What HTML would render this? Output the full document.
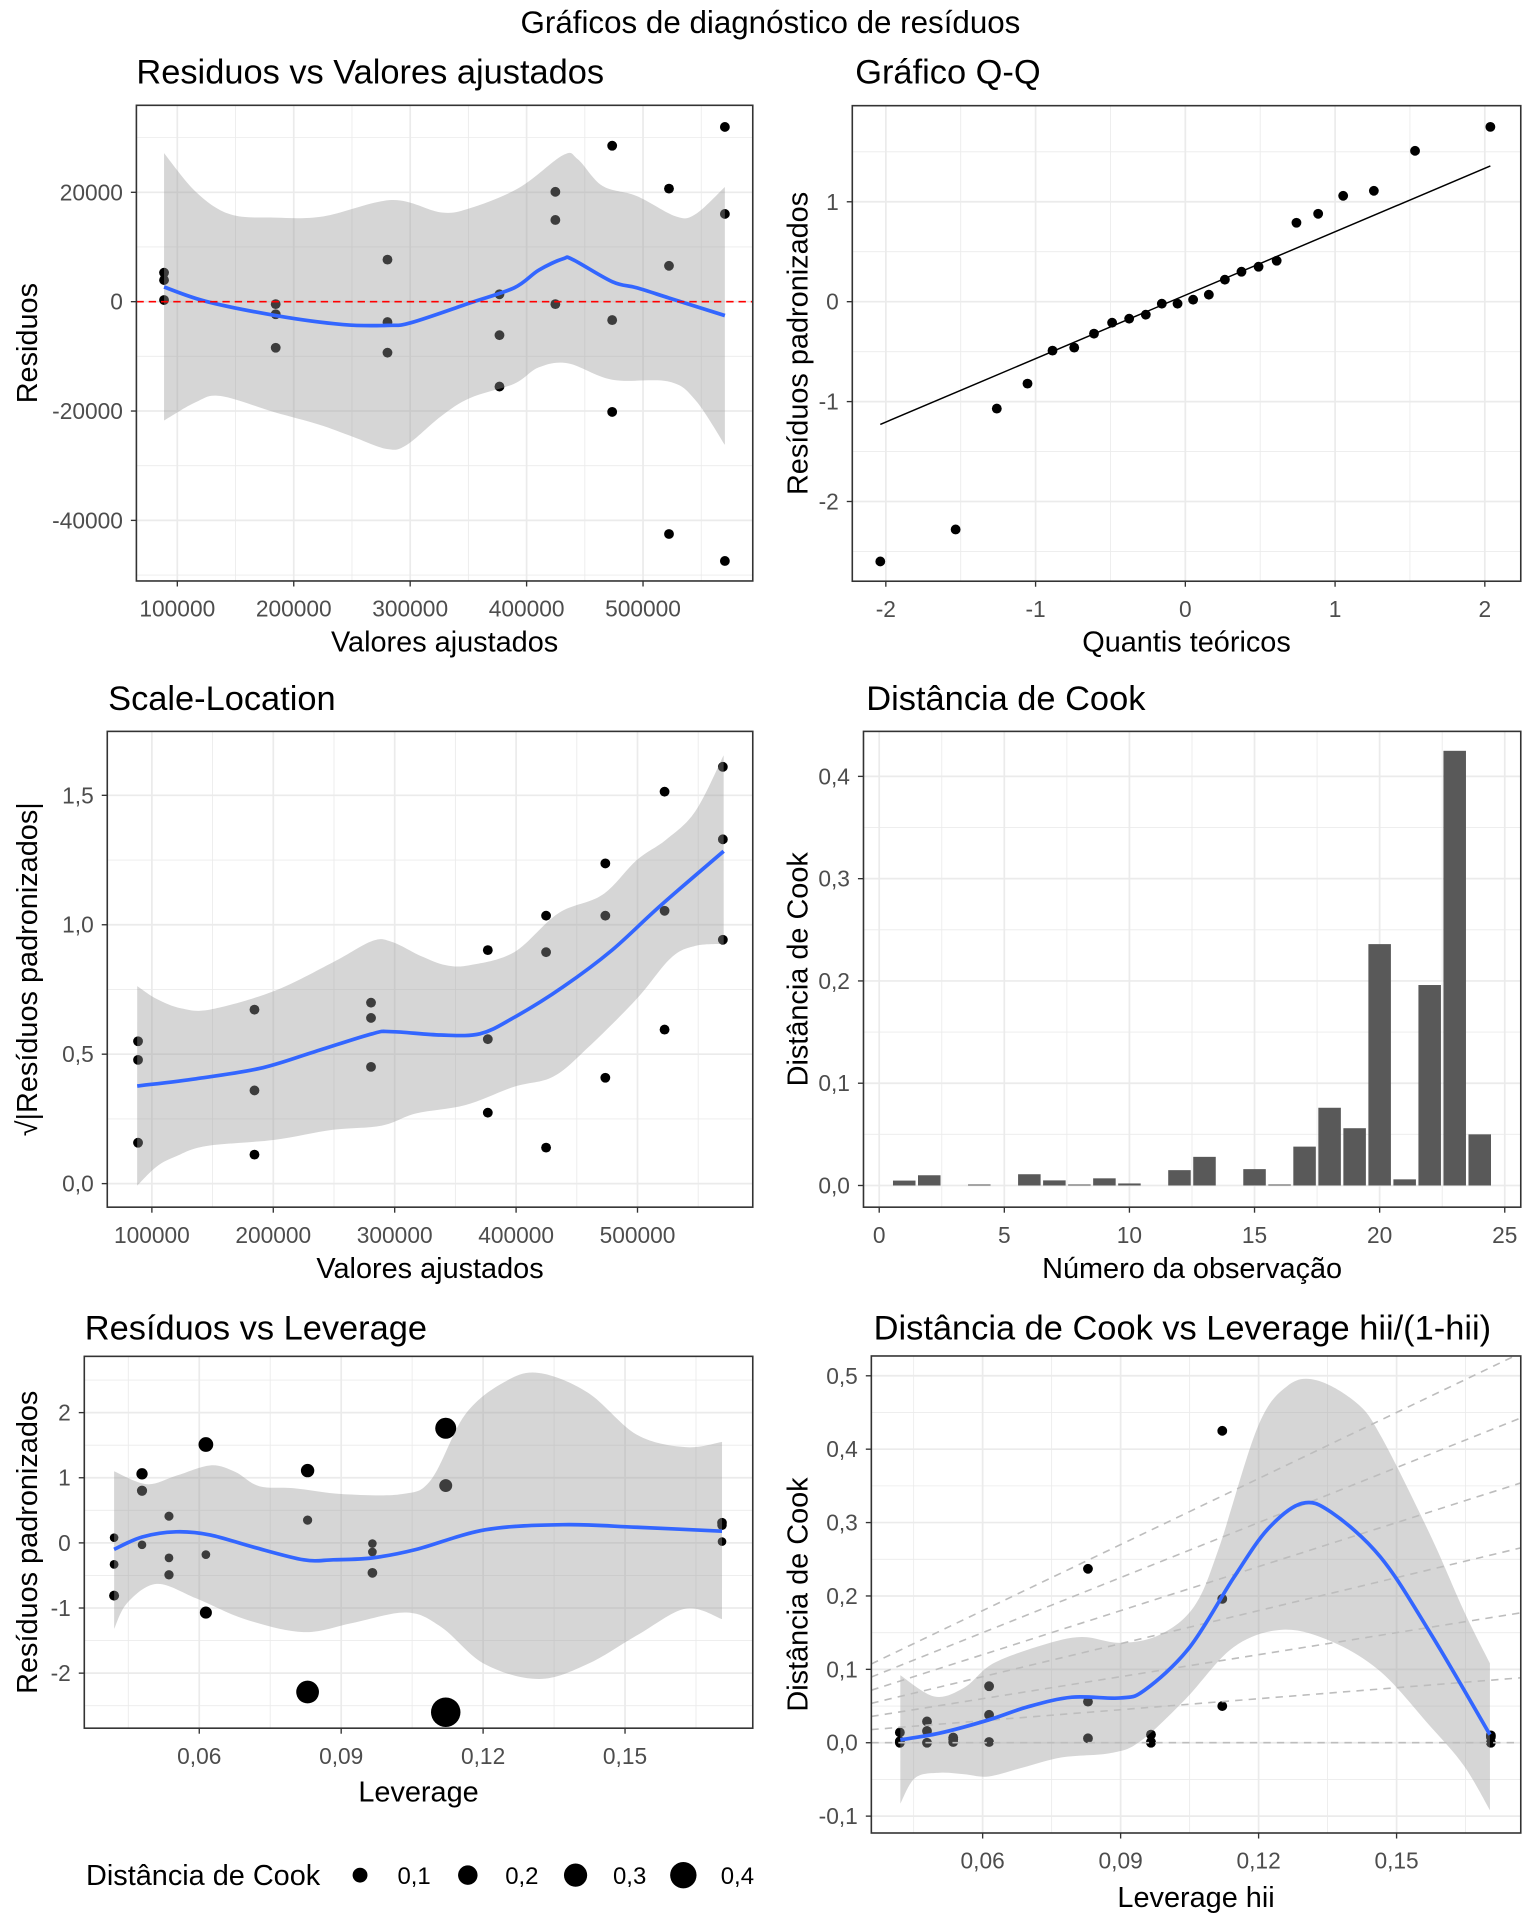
<!DOCTYPE html>
<html><head><meta charset="utf-8"><title>Gráficos de diagnóstico de resíduos</title>
<style>html,body{margin:0;padding:0;background:#fff;}svg{display:block;font-family:"Liberation Sans",sans-serif;}</style>
</head><body>
<svg id="root" xmlns="http://www.w3.org/2000/svg" width="1536" height="1920" viewBox="0 0 1250 1562.5">
<rect x="0" y="0" width="1250" height="1562.5" fill="#fff"/>
<text x="627" y="27" font-size="25.5" text-anchor="middle" fill="#000">Gráficos de diagnóstico de resíduos</text>
</svg>
<script>
// ---------- data ----------
const fittedVals = [88600,88600,88600,184500,184500,184500,280500,280500,280500,376700,376700,376700,424700,424700,424700,473500,473500,473500,522300,522300,522300,570300,570300,570300];
const residVals = [5300,3950,300,-450,-2300,-8430,7690,-3730,-9330,1350,-6130,-15530,20090,14940,-450,28520,-3370,-20160,20670,6560,-42490,31950,16040,-47420];
const p1SmoothX = [88600,124400,184500,242200,280500,301200,351500,389400,410400,431400,439800,473500,494500,522300,570300];
const p1SmoothY = [2680,70,-2540,-4180,-4340,-3820,-220,2540,5750,7840,7690,3660,2540,670,-2540];
const p1UpX = [88600,115900,145400,183600,225600,284200,326300,351500,393600,431400,444000,465000,494500,528200,545000,570300];
const p1UpY = [27170,20090,15980,15370,15600,18580,16340,17100,20830,26810,26050,21190,19330,15600,15980,20970];
const p1LoX = [88600,115900,137200,183600,221400,250900,280100,296900,326300,351500,389400,410400,435600,473500,522300,545000,570300];
const p1LoY = [-21730,-18360,-17260,-20220,-22470,-24720,-26940,-26200,-20990,-17620,-15010,-12020,-11280,-14270,-14630,-18000,-26200];

const qqTheo = [-2.037,-1.534,-1.259,-1.054,-0.887,-0.742,-0.610,-0.489,-0.375,-0.264,-0.157,-0.052,0.052,0.157,0.264,0.375,0.489,0.610,0.742,0.887,1.054,1.259,1.534,2.037];
const qqSample = [-2.60,-2.28,-1.07,-0.82,-0.49,-0.46,-0.32,-0.21,-0.17,-0.13,-0.02,-0.02,0.02,0.07,0.22,0.30,0.35,0.41,0.79,0.88,1.06,1.11,1.51,1.75];
const qqLine = [0.065, 0.635]; // intercept, slope

const slFitted = [88600,88600,88600,184500,184500,184500,280500,280500,280500,376700,376700,376700,424700,424700,424700,473500,473500,473500,522300,522300,522300,570300,570300,570300];
const slVals = [0.55,0.478,0.158,0.672,0.36,0.112,0.699,0.64,0.451,0.902,0.558,0.274,1.035,0.894,0.139,1.237,1.035,0.409,1.514,1.054,0.595,1.61,1.33,0.942];
const p3SmoothX = [87900,136300,188700,233100,281500,297600,337900,370200,398400,438700,479000,519400,571000];
const p3SmoothY = [0.377,0.405,0.445,0.508,0.579,0.587,0.574,0.579,0.642,0.760,0.902,1.076,1.284];
const p3UpX = [87900,104000,124200,148400,200800,249200,281500,297600,321800,341900,362100,398400,434700,471000,499200,523400,547600,571000];
const p3UpY = [0.763,0.713,0.677,0.673,0.744,0.855,0.937,0.934,0.879,0.844,0.844,0.894,1.044,1.115,1.249,1.328,1.438,1.655];
const p3LoX = [87900,104000,120200,144400,200800,249200,289500,317700,358100,398400,430600,458900,499200,527400,547600,571000];
const p3LoY = [-0.008,0.066,0.106,0.145,0.169,0.208,0.224,0.271,0.303,0.374,0.413,0.524,0.713,0.871,0.918,0.926];

const obsIndex = [1,2,3,4,5,6,7,8,9,10,11,12,13,14,15,16,17,18,19,20,21,22,23,24];
const cookBars = [0.0048,0.010,0,0.001,0,0.011,0.005,0.001,0.007,0.002,0,0.015,0.028,0,0.016,0.001,0.038,0.076,0.056,0.236,0.006,0.196,0.425,0.050];

const levVals = [0.042,0.042,0.042,0.0479,0.0479,0.0479,0.0536,0.0536,0.0536,0.0614,0.0614,0.0614,0.0829,0.0829,0.0829,0.0966,0.0966,0.0966,0.1121,0.1121,0.1121,0.1705,0.1705,0.1705];
const stdRes = [0.08,-0.33,-0.81,1.06,0.80,-0.03,0.41,-0.23,-0.49,1.51,-0.18,-1.07,1.11,0.35,-2.29,-0.01,-0.14,-0.46,1.76,0.88,-2.60,0.31,0.27,0.02];
const cookD = [0.0,0.002,0.014,0.029,0.016,0.0,0.005,0.001,0.007,0.077,0.001,0.038,0.056,0.006,0.237,0.0,0.001,0.011,0.196,0.050,0.425,0.010,0.008,0.0];
const p5SmoothX = [0.042,0.0479,0.0551,0.0624,0.0717,0.0821,0.0883,0.0966,0.1059,0.1204,0.1369,0.1525,0.1705];
const p5SmoothY = [-0.10,0.09,0.17,0.12,-0.07,-0.26,-0.26,-0.23,-0.10,0.20,0.28,0.24,0.18];
const p5UpX = [0.042,0.0489,0.0551,0.0624,0.0676,0.0727,0.080,0.0903,0.1028,0.109,0.1162,0.1245,0.1318,0.1421,0.1525,0.1628,0.1705];
const p5UpY = [1.10,0.90,1.03,1.19,1.09,0.87,0.84,0.75,0.75,0.97,1.97,2.47,2.61,2.31,1.66,1.47,1.55];
const p5LoX = [0.042,0.0448,0.051,0.0593,0.0696,0.0821,0.0924,0.1038,0.1111,0.1203,0.1318,0.1421,0.1525,0.1628,0.1705];
const p5LoY = [-1.32,-0.92,-0.63,-0.85,-1.17,-1.37,-1.23,-1.07,-1.29,-1.86,-2.09,-1.86,-1.42,-1.01,-1.17];
const legendCook = [0.1,0.2,0.3,0.4];
const legendLabels = ['0,1','0,2','0,3','0,4'];

const p6SmoothX = [0.0421,0.0506,0.0613,0.0698,0.0794,0.09,0.0953,0.105,0.1146,0.122,0.1294,0.1358,0.1465,0.1571,0.1703];
const p6SmoothY = [0.004,0.013,0.031,0.049,0.062,0.061,0.072,0.130,0.225,0.291,0.326,0.314,0.253,0.152,0.011];
const p6UpX = [0.0421,0.0495,0.056,0.0623,0.073,0.0815,0.09,0.0985,0.106,0.1113,0.1198,0.1262,0.1326,0.1411,0.1465,0.1571,0.1646,0.1703];
const p6UpY = [0.092,0.063,0.075,0.108,0.133,0.144,0.136,0.147,0.186,0.264,0.430,0.486,0.494,0.464,0.419,0.286,0.180,0.108];
const p6LoX = [0.0421,0.0453,0.0506,0.056,0.0613,0.0687,0.0772,0.0879,0.0943,0.1039,0.1145,0.1252,0.1358,0.1465,0.1571,0.1646,0.1703];
const p6LoY = [-0.083,-0.048,-0.041,-0.043,-0.046,-0.034,-0.020,-0.014,0.002,0.058,0.130,0.154,0.138,0.097,0.024,-0.031,-0.092];
const cookSlopes = [0,0.5,1,1.5,2,2.5,3];

// ---------- helpers ----------
const NS = 'http://www.w3.org/2000/svg';
const root = document.getElementById('root');
function mk(tag, attrs, parent) {
  const e = document.createElementNS(NS, tag);
  for (const k in attrs) e.setAttribute(k, attrs[k]);
  parent.appendChild(e);
  return e;
}
let clipId = 0;

function panel(cfg) {
  const g = mk('g', {}, root);
  
  
  const x0 = cfg.box[0], y0 = cfg.box[1], x1 = cfg.box[2], y1 = cfg.box[3];
  const sx = v => x0 + (v - cfg.xd[0]) / (cfg.xd[1] - cfg.xd[0]) * (x1 - x0);
  const sy = v => y1 - (v - cfg.yd[0]) / (cfg.yd[1] - cfg.yd[0]) * (y1 - y0);
  const t = mk('text', {x: cfg.titleX, y: cfg.titleY, 'font-size': 28, fill: '#000'}, g);
  t.textContent = cfg.title;
  
  
  const grid = mk('g', {}, g);
  
  
  const minorX = [], minorY = [];
  for (let i = 0; i < cfg.xt.length - 1; i++) minorX.push((cfg.xt[i] + cfg.xt[i+1]) / 2);
  for (let i = 0; i < cfg.yt.length - 1; i++) minorY.push((cfg.yt[i] + cfg.yt[i+1]) / 2);
  const stepX = cfg.xt[1] - cfg.xt[0], stepY = cfg.yt[1] - cfg.yt[0];
  minorX.push(cfg.xt[0] - stepX/2, cfg.xt[cfg.xt.length-1] + stepX/2);
  minorY.push(cfg.yt[0] - stepY/2, cfg.yt[cfg.yt.length-1] + stepY/2);
  minorX.forEach(v => { const X = sx(v); if (X > x0 && X < x1) mk('line', {x1: X, x2: X, y1: y0, y2: y1, stroke: '#ebebeb', 'stroke-width': 0.7}, grid); });
  minorY.forEach(v => { const Y = sy(v); if (Y > y0 && Y < y1) mk('line', {x1: x0, x2: x1, y1: Y, y2: Y, stroke: '#ebebeb', 'stroke-width': 0.7}, grid); });
  cfg.xt.forEach(v => mk('line', {x1: sx(v), x2: sx(v), y1: y0, y2: y1, stroke: '#ebebeb', 'stroke-width': 1.4}, grid));
  cfg.yt.forEach(v => mk('line', {x1: x0, x2: x1, y1: sy(v), y2: sy(v), stroke: '#ebebeb', 'stroke-width': 1.4}, grid));
  cfg.xt.forEach((v, i) => {
    mk('line', {x1: sx(v), x2: sx(v), y1: y1, y2: y1 + 4.5, stroke: '#333', 'stroke-width': 1.1}, g);
    const l = mk('text', {x: sx(v), y: y1 + 29, 'font-size': 18.5, fill: '#4d4d4d', 'text-anchor': 'middle'}, g);
    l.textContent = cfg.xl[i];
    
    
  });
  cfg.yt.forEach((v, i) => {
    mk('line', {x1: x0 - 4.5, x2: x0, y1: sy(v), y2: sy(v), stroke: '#333', 'stroke-width': 1.1}, g);
    const l = mk('text', {x: x0 - 11, y: sy(v) + 6.5, 'font-size': 18.5, fill: '#4d4d4d', 'text-anchor': 'end'}, g);
    l.textContent = cfg.yl[i];
    
    
  });
  const xt = mk('text', {x: (x0 + x1) / 2, y: cfg.xTitleY, 'font-size': 23.5, 'text-anchor': 'middle', fill: '#000'}, g);
  xt.textContent = cfg.xTitle;
  
  
  const yt = mk('text', {x: 0, y: 0, 'font-size': 23.5, 'text-anchor': 'middle', fill: '#000', transform: 'translate(' + (cfg.yTitleX) + ',' + ((y0 + y1) / 2) + ') rotate(-90)'}, g);
  yt.textContent = cfg.yTitle;
  
  
  clipId++;
  const cp = mk('clipPath', {id: 'cp' + clipId}, g);
  mk('rect', {x: x0, y: y0, width: x1 - x0, height: y1 - y0}, cp);
  const plot = mk('g', {'clip-path': 'url(#cp' + clipId + ')'}, g);
  
  
  return {g, plot, sx, sy, border: () => { const b = mk('rect', {x: x0, y: y0, width: x1 - x0, height: y1 - y0, fill: 'none', stroke: '#333', 'stroke-width': 1.3}, g);   }};
}
function dots(P, xs, ys, r) {
  xs.forEach((v, i) => {
    const c = mk('circle', {cx: P.sx(v), cy: P.sy(ys[i]), r: r, fill: '#000'}, P.plot);
    
    
  });
}
function curve(pts) {
  let d = '';
  for (let i = 0; i < pts.length - 1; i++) {
    const p0 = pts[i - 1] || pts[i], p1 = pts[i], p2 = pts[i + 1], p3 = pts[i + 2] || p2;
    d += ' C' + (p1[0] + (p2[0] - p0[0]) / 6).toFixed(1) + ',' + (p1[1] + (p2[1] - p0[1]) / 6).toFixed(1) + ' ' + (p2[0] - (p3[0] - p1[0]) / 6).toFixed(1) + ',' + (p2[1] - (p3[1] - p1[1]) / 6).toFixed(1) + ' ' + p2[0].toFixed(1) + ',' + p2[1].toFixed(1);
  }
  return d;
}
function band(P, ux, uy, lx, ly) {
  const up = ux.map((v, i) => [P.sx(v), P.sy(uy[i])]);
  const lo = lx.map((v, i) => [P.sx(v), P.sy(ly[i])]).reverse();
  const d = 'M' + up[0][0] + ',' + up[0][1] + curve(up) + ' L' + lo[0][0] + ',' + lo[0][1] + curve(lo) + ' Z';
  const b = mk('path', {d: d, fill: '#999999', 'fill-opacity': 0.4}, P.plot);
  
  
}
function smooth(P, xs, ys) {
  const pts = xs.map((v, i) => [P.sx(v), P.sy(ys[i])]);
  const d = 'M' + pts[0][0] + ',' + pts[0][1] + curve(pts);
  const l = mk('path', {d: d, fill: 'none', stroke: '#3366FF', 'stroke-width': 3}, P.plot);
  
  
}
const kx = [100000,200000,300000,400000,500000];
const kxl = ['100000','200000','300000','400000','500000'];

// ---------- Panel 1 ----------
const P1 = panel({name: 'residuals-vs-fitted-panel', box: [111, 85.7, 612.6, 472.8], xd: [64850, 594250], yd: [-51080, 35910],
  xt: kx, xl: kxl, yt: [-40000, -20000, 0, 20000], yl: ['-40000', '-20000', '0', '20000'],
  title: 'Residuos vs Valores ajustados', titleX: 111, titleY: 68, xTitle: 'Valores ajustados', xTitleY: 530, yTitle: 'Residuos', yTitleX: 30});
dots(P1, fittedVals, residVals, 4);
band(P1, p1UpX, p1UpY, p1LoX, p1LoY);
smooth(P1, p1SmoothX, p1SmoothY);
const zl = mk('line', {x1: 111, x2: 612.6, y1: P1.sy(0), y2: P1.sy(0), stroke: '#ff0000', 'stroke-width': 1.3, 'stroke-dasharray': '6,4'}, P1.plot);


P1.border();

// ---------- Panel 2 ----------
const P2 = panel({name: 'qq-plot-panel', box: [693.6, 86, 1237.6, 473], xd: [-2.224, 2.240], yd: [-2.798, 1.962],
  xt: [-2, -1, 0, 1, 2], xl: ['-2', '-1', '0', '1', '2'], yt: [-2, -1, 0, 1], yl: ['-2', '-1', '0', '1'],
  title: 'Gráfico Q-Q', titleX: 696, titleY: 68, xTitle: 'Quantis teóricos', xTitleY: 530, yTitle: 'Resíduos padronizados', yTitleX: 657});
dots(P2, qqTheo, qqSample, 4);
const qx0 = qqTheo[0], qx1 = qqTheo[qqTheo.length - 1];
const ql = mk('line', {x1: P2.sx(qx0), y1: P2.sy(qqLine[0] + qqLine[1] * qx0), x2: P2.sx(qx1), y2: P2.sy(qqLine[0] + qqLine[1] * qx1), stroke: '#000', 'stroke-width': 1.2}, P2.plot);


P2.border();

// ---------- Panel 3 ----------
const P3 = panel({name: 'scale-location-panel', box: [87.3, 595.2, 612.6, 982.4], xd: [63260, 594940], yd: [-0.091, 1.747],
  xt: kx, xl: kxl, yt: [0, 0.5, 1, 1.5], yl: ['0,0', '0,5', '1,0', '1,5'],
  title: 'Scale-Location', titleX: 88, titleY: 578, xTitle: 'Valores ajustados', xTitleY: 1040, yTitle: '√|Resíduos padronizados|', yTitleX: 30});
dots(P3, slFitted, slVals, 4);
band(P3, p3UpX, p3UpY, p3LoX, p3LoY);
smooth(P3, p3SmoothX, p3SmoothY);
P3.border();

// ---------- Panel 4 ----------
const P4 = panel({name: 'cooks-distance-panel', box: [702.7, 595.2, 1237.6, 982.4], xd: [-0.629, 25.64], yd: [-0.0212, 0.444],
  xt: [0, 5, 10, 15, 20, 25], xl: ['0', '5', '10', '15', '20', '25'], yt: [0, 0.1, 0.2, 0.3, 0.4], yl: ['0,0', '0,1', '0,2', '0,3', '0,4'],
  title: 'Distância de Cook', titleX: 705, titleY: 578, xTitle: 'Número da observação', xTitleY: 1040, yTitle: 'Distância de Cook', yTitleX: 657});
obsIndex.forEach((o, i) => {
  const xl = P4.sx(o - 0.45), xr = P4.sx(o + 0.45), yt = P4.sy(cookBars[i]), yb = P4.sy(0);
  const r = mk('rect', {x: xl, y: yt, width: xr - xl, height: Math.max(0, yb - yt), fill: '#595959'}, P4.plot);
  
  
});
P4.border();

// ---------- Panel 5 ----------
const P5 = panel({name: 'residuals-vs-leverage-panel', box: [68.6, 1103.8, 612.6, 1406.4], xd: [0.0357, 0.177], yd: [-2.845, 2.864],
  xt: [0.06, 0.09, 0.12, 0.15], xl: ['0,06', '0,09', '0,12', '0,15'], yt: [-2, -1, 0, 1, 2], yl: ['-2', '-1', '0', '1', '2'],
  title: 'Resíduos vs Leverage', titleX: 69, titleY: 1090, xTitle: 'Leverage', xTitleY: 1466, yTitle: 'Resíduos padronizados', yTitleX: 30});
const sizeR = c => Math.sqrt(49 + 1240 * c) / 2;
levVals.forEach((v, i) => {
  const c = mk('circle', {cx: P5.sx(v), cy: P5.sy(stdRes[i]), r: sizeR(cookD[i]), fill: '#000'}, P5.plot);
  
  
});
band(P5, p5UpX, p5UpY, p5LoX, p5LoY);
smooth(P5, p5SmoothX, p5SmoothY);
P5.border();
// legend
const lg = mk('g', {}, root);


const lt = mk('text', {x: 70, y: 1534, 'font-size': 23.5, fill: '#000'}, lg);
lt.textContent = 'Distância de Cook';


legendCook.forEach((c, i) => {
  const cx = 293 + i * 87.7;
  const k = mk('circle', {cx: cx, cy: 1526, r: sizeR(c) * 0.92, fill: '#000'}, lg);
  
  
  const tx = mk('text', {x: cx + 44, y: 1533, 'font-size': 19.5, fill: '#000', 'text-anchor': 'middle'}, lg);
  tx.textContent = legendLabels[i];
  
  
});

// ---------- Panel 6 ----------
const P6 = panel({name: 'cook-vs-leverage-panel', box: [709.1, 1103.5, 1237.6, 1491.7], xd: [0.0358, 0.177], yd: [-0.123, 0.527],
  xt: [0.06, 0.09, 0.12, 0.15], xl: ['0,06', '0,09', '0,12', '0,15'], yt: [-0.1, 0, 0.1, 0.2, 0.3, 0.4, 0.5], yl: ['-0,1', '0,0', '0,1', '0,2', '0,3', '0,4', '0,5'],
  title: 'Distância de Cook vs Leverage hii/(1-hii)', titleX: 711, titleY: 1090, xTitle: 'Leverage hii', xTitleY: 1552, yTitle: 'Distância de Cook', yTitleX: 657});
dots(P6, levVals, cookD, 4);
band(P6, p6UpX, p6UpY, p6LoX, p6LoY);
cookSlopes.forEach(s => {
  const a = mk('line', {x1: P6.sx(0.0358), y1: P6.sy(s * 0.0358), x2: P6.sx(0.177), y2: P6.sy(s * 0.177), stroke: '#bdbdbd', 'stroke-width': 1.3, 'stroke-dasharray': '6,5'}, P6.plot);
  
  
});
smooth(P6, p6SmoothX, p6SmoothY);
P6.border();
</script>
</body></html>
